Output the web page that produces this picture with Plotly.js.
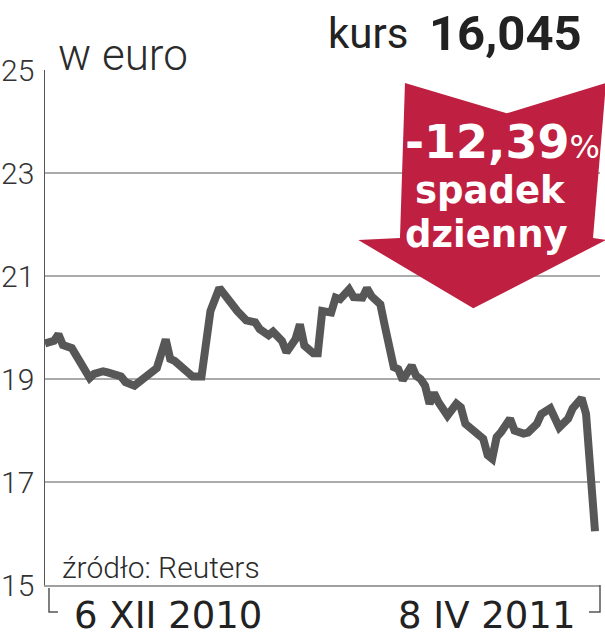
<!DOCTYPE html>
<html><head><meta charset="utf-8">
<script src="https://cdn.plot.ly/plotly-3.0.1.min.js"></script>
<style>html,body{margin:0;padding:0;background:#fff;overflow:hidden}#chart{width:605px;height:640px}</style>
</head><body><div id="chart"></div>
<script>
// ---- data ----
const dayOffset = [0,2,3,4,6,7,9,10,11,13,14,17,18,20,21,23,25,27,28,29,30,32,33,35,36,37,39,40,42,43,45,47,48,50,51,53,54,56,57,58,60,61,62,64,65,66,68,69,71,72,73,75,76,77,78,79,80,82,83,84,85,86,87,88,90,92,93,94,96,98,99,100,101,102,104,105,107,108,110,111,113,115,117,118,120,121,123];
const price = [19.69,19.74,19.87,19.66,19.60,19.45,19.19,19.02,19.10,19.15,19.13,19.05,18.94,18.87,18.94,19.10,19.21,19.77,19.39,19.35,19.28,19.13,19.05,19.05,19.61,20.32,20.77,20.65,20.45,20.32,20.14,20.10,19.97,19.85,19.92,19.74,19.52,19.77,20.06,19.65,19.50,19.50,20.32,20.29,20.58,20.55,20.74,20.59,20.58,20.76,20.61,20.45,20.03,19.55,19.23,19.19,18.98,19.26,19.06,19.00,18.87,18.52,18.73,18.55,18.29,18.52,18.45,18.13,17.97,17.84,17.52,17.45,17.87,17.97,18.23,18.00,17.94,17.96,18.13,18.32,18.43,18.06,18.23,18.43,18.63,18.32,16.045];
const yTicks = [15,17,19,21,23,25];
const dateLabels = ['6 XII 2010','8 IV 2011'];
const unitLabel = 'w euro';
const sourceLabel = 'źródło: Reuters';
const kursLabel = 'kurs';
const kursValue = '16,045';
const changeValue = '-12,39';
const changeLines = ['spadek','dzienny'];

// ---- geometry helpers (pixel -> paper) ----
const W = 605, H = 640, M = {l:45, r:5, t:70, b:55};
const PW = W - M.l - M.r, PH = H - M.t - M.b;
const px = v => (v - M.l) / PW;
const py = v => (H - M.b - v) / PH;
const lastDay = dayOffset[dayOffset.length - 1];
const xMax = lastDay * PW / (595 - M.l);

const arrowPts = [[405,83],[506.7,113.3],[606,83],[593,238],[606,240],[473.3,308.3],[358.3,240],[400,238]];
const arrowPath = 'M ' + arrowPts.map(p => px(p[0]).toFixed(4) + ' ' + py(p[1]).toFixed(4)).join(' L ') + ' Z';

function seg(pts, color, w) {
  return {type:'path', xref:'paper', yref:'paper', layer:'above',
    path: 'M ' + pts.map(p => px(p[0]).toFixed(4) + ' ' + py(p[1]).toFixed(4)).join(' L '),
    line:{color:color, width:w}};
}

const thin = 'Roboto, "Liberation Sans", sans-serif';

const trace = {
  x: dayOffset, y: price, type:'scatter', mode:'lines',
  line:{color:'#575757', width:8, shape:'linear'},
  hoverinfo:'skip', cliponaxis:true
};

// y tick labels drawn on the y scale (positioned by the axis itself)
const tickAnnotations = yTicks.map(v => ({
  text:String(v), xref:'paper', yref:'y', x:px(36), y:v, xanchor:'right', yanchor:'middle',
  showarrow:false, font:{family:thin, size:30, color:'#333', weight:300}
}));

const layout = {
  width: W, height: H,
  margin: {l:M.l, r:M.r, t:M.t, b:M.b, pad:0},
  paper_bgcolor:'#fff', plot_bgcolor:'#fff',
  showlegend:false,
  xaxis: {range:[0, xMax], showgrid:false, zeroline:false, showticklabels:false,
    showline:true, linecolor:'#a0a0a0', linewidth:1.5, ticks:'', fixedrange:true},
  yaxis: {range:[15,25], tickvals:yTicks, showticklabels:false,
    showgrid:true, gridcolor:'#ababab', gridwidth:1.5, zeroline:false,
    showline:true, linecolor:'#555', linewidth:1.5, ticks:'', fixedrange:true},
  shapes: [
    // gap in the top gridline behind the unit label
    {type:'rect', xref:'paper', yref:'paper', layer:'above', x0:px(55), x1:px(193), y0:py(74), y1:py(63),
      fillcolor:'#fff', line:{width:0}},
    // red arrow
    {type:'path', xref:'paper', yref:'paper', layer:'above', path:arrowPath,
      fillcolor:'#bf1f40', line:{width:0}},
    // date brackets
    seg([[49,588],[49,612],[58,612]], '#555', 1.5),
    seg([[600,585],[600,612],[589,612]], '#555', 1.5)
  ],
  annotations: tickAnnotations.concat([
    {text:unitLabel, xref:'paper', yref:'paper', x:px(56), y:py(55), xanchor:'left', yanchor:'middle',
      showarrow:false, font:{family:thin, size:44, color:'#2b2b2b', weight:300}},
    {text:kursLabel, xref:'paper', yref:'paper', x:px(326), y:py(33), xanchor:'left', yanchor:'middle',
      showarrow:false, font:{family:'Roboto, sans-serif', size:42, color:'#222', weight:400}},
    {text:kursValue, xref:'paper', yref:'paper', x:px(584), y:py(33), xanchor:'right', yanchor:'middle',
      showarrow:false, font:{family:'Roboto, sans-serif', size:49, color:'#222', weight:700}},
    {text:changeValue + '<span style="font-size:32px;font-weight:400">%</span>', xref:'paper', yref:'paper',
      x:px(502), y:py(142), xanchor:'center', yanchor:'middle', showarrow:false,
      font:{family:'"DejaVu Sans", sans-serif', size:46, color:'#fff', weight:700}},
    {text:changeLines[0], xref:'paper', yref:'paper', x:px(490), y:py(190), xanchor:'center', yanchor:'middle',
      showarrow:false, font:{family:'"DejaVu Sans", sans-serif', size:37, color:'#fff', weight:700}},
    {text:changeLines[1], xref:'paper', yref:'paper', x:px(486), y:py(235), xanchor:'center', yanchor:'middle',
      showarrow:false, font:{family:'"DejaVu Sans", sans-serif', size:37, color:'#fff', weight:700}},
    {text:sourceLabel, xref:'paper', yref:'paper', x:px(60), y:py(567), xanchor:'left', yanchor:'middle',
      showarrow:false, font:{family:thin, size:30, color:'#2b2b2b', weight:300}},
    {text:dateLabels[0], xref:'paper', yref:'paper', x:px(72), y:py(615), xanchor:'left', yanchor:'middle',
      showarrow:false, font:{family:'"DejaVu Sans", sans-serif', size:37, color:'#222'}},
    {text:dateLabels[1], xref:'paper', yref:'paper', x:px(577), y:py(615), xanchor:'right', yanchor:'middle',
      showarrow:false, font:{family:'"DejaVu Sans", sans-serif', size:37, color:'#222'}}
  ])
};

Plotly.newPlot('chart', [trace], layout, {staticPlot:true, displayModeBar:false});
</script></body></html>
